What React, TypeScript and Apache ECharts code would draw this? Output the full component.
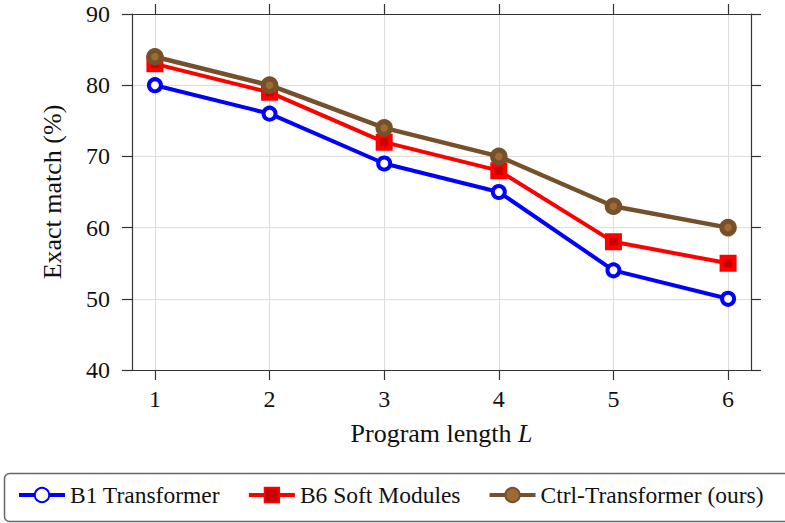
import React, { useEffect, useRef } from "react";
import * as echarts from "echarts";

const programLength = [1, 2, 3, 4, 5, 6];
const b1Transformer = [80, 76, 69, 65, 54, 50];
const b6SoftModules = [83, 79, 72, 68, 58, 55];
const ctrlTransformer = [84, 80, 74, 70, 63, 60];
const yTicks = [40, 50, 60, 70, 80, 90];

const FONT = "'Liberation Serif', 'Times New Roman', serif";
const AXIS_COLOR = "#333";

const pairs = (ys: number[]) => programLength.map((x, i) => [x, ys[i]]);

export default function App() {
  const ref = useRef<HTMLDivElement>(null);
  useEffect(() => {
    if (!ref.current) return;
    const chart = echarts.init(ref.current, null, { renderer: "svg" });
    const axisCommon = {
      axisLine: { show: true, onZero: false, lineStyle: { color: AXIS_COLOR, width: 1.2 } },
      axisTick: { show: true, inside: false, length: 10, lineStyle: { color: AXIS_COLOR, width: 1.2 } },
    };
    chart.setOption({
      animation: false,
      backgroundColor: "#fff",
      textStyle: { fontFamily: FONT },
      grid: { left: 132, right: 34, top: 14, bottom: 153, containLabel: false },
      xAxis: [
        {
          type: "value",
          min: 0.8,
          max: 6.2,
          ...axisCommon,
          axisTick: { ...axisCommon.axisTick, customValues: programLength },
          axisLabel: {
            customValues: programLength,
            margin: 17,
            fontSize: 24,
            fontFamily: FONT,
            color: "#111",
          },
          splitLine: { show: true, lineStyle: { color: "#dcdcdc", width: 1 } },
          name: "Program length {i|L}",
          nameLocation: "middle",
          nameGap: 50,
          nameTextStyle: {
            fontSize: 26,
            fontFamily: FONT,
            color: "#111",
            rich: { i: { fontStyle: "italic", fontSize: 26, fontFamily: FONT, color: "#111" } },
          },
        },
        {
          type: "value",
          position: "top",
          min: 0.8,
          max: 6.2,
          ...axisCommon,
          axisTick: { ...axisCommon.axisTick, customValues: programLength },
          axisLabel: { show: false, customValues: programLength },
          splitLine: { show: false },
        },
      ],
      yAxis: [
        {
          type: "value",
          min: 40,
          max: 90,
          interval: 10,
          ...axisCommon,
          axisLabel: {
            margin: 22,
            fontSize: 24,
            fontFamily: FONT,
            color: "#111",
            formatter: (v: number) => (yTicks.includes(v) ? String(v) : ""),
          },
          splitLine: { show: true, lineStyle: { color: "#dcdcdc", width: 1 } },
          name: "Exact match (%)",
          nameLocation: "middle",
          nameGap: 67,
          nameTextStyle: { fontSize: 26, fontFamily: FONT, color: "#111" },
        },
        {
          type: "value",
          position: "right",
          min: 40,
          max: 90,
          interval: 10,
          ...axisCommon,
          axisLabel: { show: false },
          splitLine: { show: false },
        },
      ],
      legend: {
        left: 17,
        top: 483,
        itemWidth: 46,
        itemHeight: 18,
        itemGap: 27,
        padding: 0,
        lineStyle: { width: 4 },
        textStyle: { fontSize: 23.5, fontFamily: FONT, color: "#111" },
        data: ["B1 Transformer", "B6 Soft Modules", "Ctrl-Transformer (ours)"],
      },
      graphic: [
        {
          type: "rect",
          shape: { x: 4.5, y: 473.5, width: 800, height: 48, r: 5 },
          style: { fill: "none", stroke: "#666", lineWidth: 1.5 },
          silent: true,
        },
      ],
      series: [
        {
          name: "B1 Transformer",
          type: "line",
          data: pairs(b1Transformer),
          symbol: "circle",
          symbolSize: 12,
          lineStyle: { color: "#0000ff", width: 4 },
          itemStyle: { color: "#ffffff", borderColor: "#0000ff", borderWidth: 4 },
          z: 2,
        },
        {
          name: "B6 Soft Modules",
          type: "line",
          data: pairs(b6SoftModules),
          symbol: "rect",
          symbolSize: 12.5,
          lineStyle: { color: "#ff0000", width: 4 },
          itemStyle: { color: "#c80000", borderColor: "#ff0000", borderWidth: 4.5 },
          z: 3,
        },
        {
          name: "Ctrl-Transformer (ours)",
          type: "line",
          data: pairs(ctrlTransformer),
          symbol: "circle",
          symbolSize: 12.5,
          lineStyle: { color: "#75502a", width: 4.5 },
          itemStyle: { color: "#a06a35", borderColor: "#75502a", borderWidth: 5 },
          z: 4,
        },
      ],
    });
    return () => chart.dispose();
  }, []);
  return (
    <div
      ref={ref}
      style={{ position: "fixed", left: 0, top: 0, width: 785, height: 523 }}
    />
  );
}
